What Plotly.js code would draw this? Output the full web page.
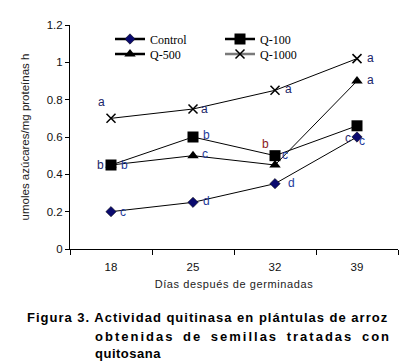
<!DOCTYPE html>
<html>
<head>
<meta charset="utf-8">
<script src="https://cdn.plot.ly/plotly-3.0.1.min.js"></script>
<style>html,body{margin:0;padding:0;background:#fff;}#chart{width:409px;height:363px;}</style>
</head>
<body>
<div id="chart"></div>
<script>
// ---- data ----
var dias = ['18', '25', '32', '39'];
var control = [0.20, 0.25, 0.35, 0.60];
var q100 = [0.45, 0.60, 0.50, 0.66];
var q500 = [0.45, 0.50, 0.45, 0.90];
var q1000 = [0.70, 0.75, 0.85, 1.02];
var seriesNames = ['Control', 'Q-100', 'Q-500', 'Q-1000'];
// significance letters: [series, day index, letter]
var letras = [
  ['Q-1000', 0, 'a'], ['Q-1000', 1, 'a'], ['Q-1000', 2, 'a'], ['Q-1000', 3, 'a'],
  ['Q-500', 3, 'a'],
  ['Q-100', 1, 'b'], ['Q-500', 1, 'c'],
  ['Q-100', 0, 'b'], ['Q-500', 0, 'b'],
  ['Q-100', 2, 'b'], ['Q-100', 2, 'c'],
  ['Control', 0, 'c'], ['Control', 1, 'd'], ['Control', 2, 'd'], ['Control', 3, 'c'],
  ['Q-100', 3, 'c']
];
var xTitle = 'Días después de germinadas';
var yTitle = 'umoles azúcares/mg proteínas h';
var caption = ['Figura 3. Actividad quitinasa en plántulas de arroz',
  'obtenidas de semillas tratadas con', 'quitosana'];

// ---- styling (offsets in px) ----
var letterStyle = [
  [-10, 16, '#1a2468'], [11, 0, '#1a2468'], [13, 1, '#1a2468'], [13, 1, '#1a2468'],
  [13, 1, '#1a2468'],
  [13, 2, '#1d3a9a'], [12, 2, '#1d3a9a'],
  [-11, 0, '#1a2468'], [13, 0, '#1d3a9a'],
  [-10, 12, '#8a1a1a'], [10, 1, '#1d3a9a'],
  [12, 0, '#1d3a9a'], [13, 1, '#1d3a9a'], [16, 1, '#1d3a9a'], [5, -4, '#1d3a9a'],
  [-9, -12, '#1a2468']
];
var valuesBy = {'Control': control, 'Q-100': q100, 'Q-500': q500, 'Q-1000': q1000};

var mk = {
  'Control': {symbol: 'diamond', size: 8, color: '#0a0a6e', line: {color: '#000', width: 0.5}},
  'Q-100': {symbol: 'square', size: 11, color: '#000'},
  'Q-500': {symbol: 'triangle-up', size: 10, color: '#000'},
  'Q-1000': {symbol: 'x-thin-open', size: 9, color: '#000', line: {color: '#000', width: 1.5}}
};
var legendLine = {'Control': '#000', 'Q-100': '#000', 'Q-500': '#000', 'Q-1000': '#7a7a7a'};
var legendIds = {'Control': 'legend', 'Q-100': 'legend2', 'Q-500': 'legend3', 'Q-1000': 'legend4'};

var traces = [];
['Q-1000', 'Q-500', 'Q-100', 'Control'].forEach(function (n) {
  traces.push({x: dias, y: valuesBy[n], type: 'scatter', mode: 'lines+markers', name: n,
    showlegend: false, line: {color: '#000', width: 1}, marker: mk[n], cliponaxis: false});
});
seriesNames.forEach(function (n) {
  traces.push({x: [null], y: [null], type: 'scatter', mode: 'lines+markers', name: n,
    legend: legendIds[n],
    showlegend: true, line: {color: legendLine[n], width: 2.5}, marker: mk[n]});
});

var annotations = letras.map(function (l, i) {
  var s = letterStyle[i];
  return {x: l[1], y: valuesBy[l[0]][l[1]], xref: 'x', yref: 'y', text: l[2], showarrow: false,
    xshift: s[0], yshift: s[1], font: {family: 'Liberation Sans, Arial', size: 12, color: s[2]}};
});

// caption
var capFont = {family: 'Liberation Sans, Arial', size: 13, color: '#000'};
function px(xp) { return (xp - 70) / 328; }
function py(yp) { return (249 - yp) / 224; }
function cap(text, x, y, ls, ws) {
  annotations.push({xref: 'paper', yref: 'paper', x: x, y: y, xanchor: 'left', yanchor: 'middle',
    text: '<span style="letter-spacing:' + ls + 'px;word-spacing:' + ws + 'px"><b>' + text + '</b></span>',
    showarrow: false, font: capFont});
}
cap(caption[0], px(25), py(317), 1, 0);
cap(caption[1], px(93), py(336), 2, 3);
cap(caption[2], px(93), py(353), 0.5, 0);

function leg(xp, yp) {
  return {orientation: 'h', x: px(xp), xanchor: 'left', y: py(yp), yanchor: 'middle',
    bgcolor: 'rgba(0,0,0,0)', borderwidth: 0,
    font: {family: 'Liberation Serif, Times New Roman', size: 12, color: '#000'}};
}

var layout = {
  width: 409, height: 363,
  margin: {l: 70, r: 11, t: 25, b: 114},
  paper_bgcolor: '#fff', plot_bgcolor: '#fff',
  font: {family: 'Liberation Sans, Arial', size: 11, color: '#111'},
  showlegend: true,
  legend: leg(110, 39), legend2: leg(220, 39), legend3: leg(110, 54), legend4: leg(220, 54),
  xaxis: {type: 'category', range: [-0.5, 3.5], showline: true, linecolor: '#000', linewidth: 1,
    ticks: 'outside', tickson: 'boundaries', ticklen: 5, tickcolor: '#000', showgrid: false, zeroline: false,
    tickfont: {size: 11.5, color: '#111'}, ticklabelstandoff: 7,
    title: {text: '<span style="letter-spacing:0.6px">' + xTitle + '</span>', font: {size: 11, color: '#222'}, standoff: 8}},
  yaxis: {range: [0, 1.2], dtick: 0.2, showline: true, linecolor: '#000', linewidth: 1,
    ticks: 'outside', ticklen: 4, tickcolor: '#000', showgrid: false, zeroline: false,
    tickfont: {size: 11.5, color: '#111'},
    title: {text: yTitle, font: {size: 11.5, color: '#222'}, standoff: 14}},
  annotations: annotations
};
Plotly.newPlot('chart', traces, layout, {displayModeBar: false, staticPlot: true});
</script>
</body>
</html>
